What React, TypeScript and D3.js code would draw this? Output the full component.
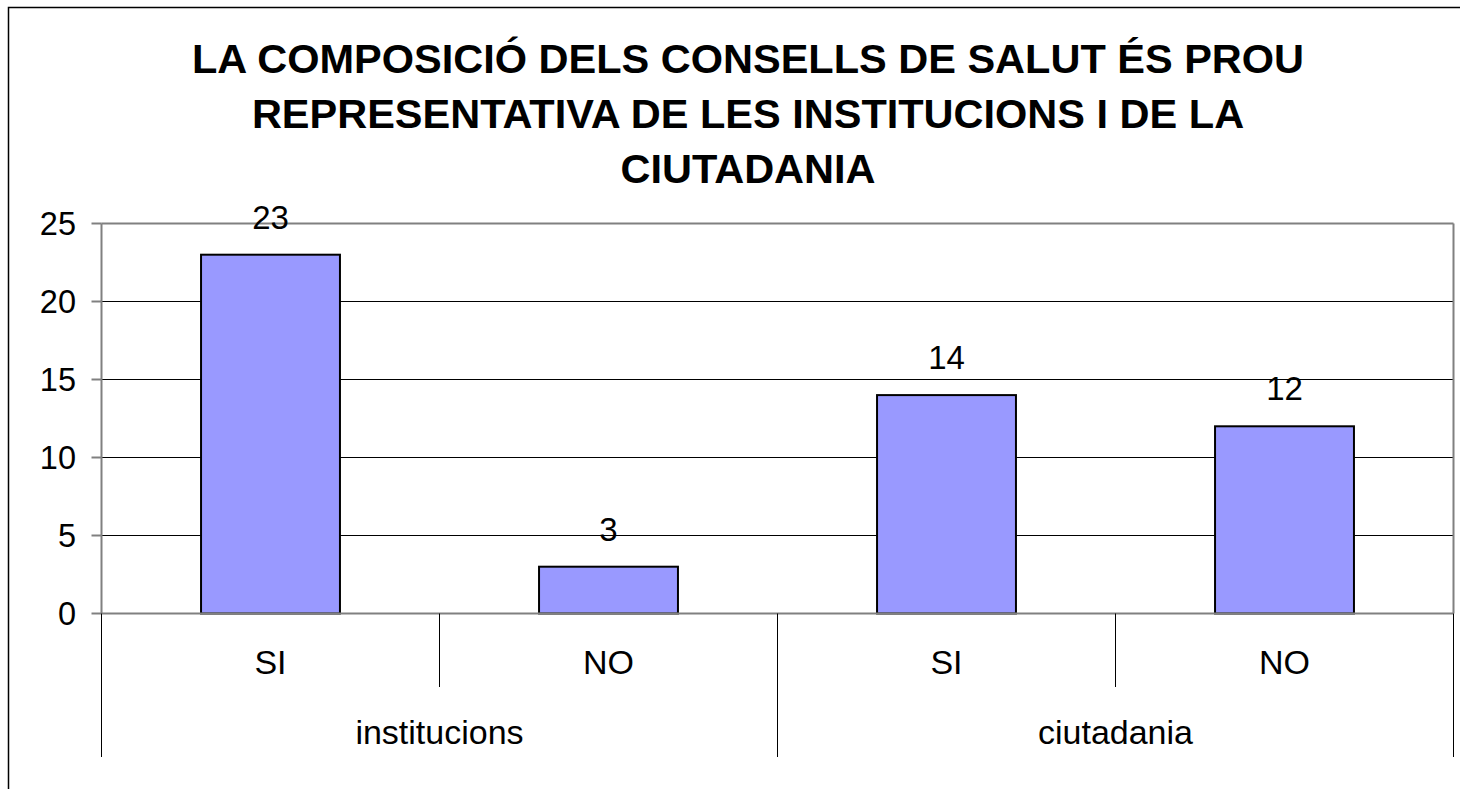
import React from "react";
import * as d3 from "d3";

const titleLines = [
  "LA COMPOSICIÓ DELS CONSELLS DE SALUT ÉS PROU",
  "REPRESENTATIVA DE LES INSTITUCIONS I DE LA",
  "CIUTADANIA",
];
const categories = ["SI", "NO", "SI", "NO"];
const groups = ["institucions", "ciutadania"];
const values = [23, 3, 14, 12];
const yTicks = [0, 5, 10, 15, 20, 25];

const W = 1460;
const H = 789;
const plotLeft = 101.5;
const plotRight = 1453.5;
const plotTop = 223.5;
const plotBottom = 613.5;
const FONT = "'Liberation Sans', Arial, sans-serif";

export default function App() {
  const y = d3.scaleLinear().domain([0, 25]).range([plotBottom, plotTop]);
  const x = d3
    .scaleBand<number>()
    .domain(categories.map((_, i) => i))
    .range([plotLeft, plotRight])
    .padding(0);
  const step = x.bandwidth();
  const barW = step * 0.411;
  const groupX = d3
    .scaleBand<number>()
    .domain(groups.map((_, i) => i))
    .range([plotLeft, plotRight])
    .padding(0);

  return (
    <svg
      width={W}
      height={H}
      style={{ position: "absolute", left: 0, top: 0, background: "#fff" }}
      fontFamily={FONT}
    >
      {/* outer frame */}
      <rect x={8.5} y={7.5} width={W + 20} height={H + 20} fill="none" stroke="#000" strokeWidth={1.5} />

      {/* title */}
      {titleLines.map((t, i) => (
        <text
          key={i}
          x={748}
          y={72.5 + i * 55}
          textAnchor="middle"
          fontSize={41.5}
          fontWeight="bold"
          fill="#000"
        >
          {t}
        </text>
      ))}

      {/* gridlines */}
      {yTicks
        .filter((t) => t > 0 && t < 25)
        .map((t) => (
          <line key={t} x1={plotLeft} x2={plotRight} y1={y(t)} y2={y(t)} stroke="#000" strokeWidth={1} />
        ))}

      {/* plot border top and right */}
      <line x1={plotLeft} x2={plotRight} y1={y(25)} y2={y(25)} stroke="#808080" strokeWidth={2} />
      <line x1={plotRight} x2={plotRight} y1={y(25)} y2={y(0)} stroke="#808080" strokeWidth={2} />

      {/* bars */}
      {values.map((v, i) => {
        const cx = (x(i) as number) + step / 2;
        return (
          <rect
            key={i}
            x={cx - barW / 2}
            y={y(v)}
            width={barW}
            height={y(0) - y(v)}
            fill="#9999FF"
            stroke="#000"
            strokeWidth={2}
          />
        );
      })}

      {/* value labels */}
      {values.map((v, i) => {
        const cx = (x(i) as number) + step / 2;
        return (
          <text key={i} x={cx} y={y(v) - 26} textAnchor="middle" fontSize={33} fill="#000">
            {v}
          </text>
        );
      })}

      {/* y axis */}
      <line x1={plotLeft} x2={plotLeft} y1={y(25)} y2={y(0)} stroke="#808080" strokeWidth={2} />
      {yTicks.map((t) => (
        <g key={t}>
          <line x1={plotLeft - 10} x2={plotLeft} y1={y(t)} y2={y(t)} stroke="#808080" strokeWidth={2} />
          <text x={76} y={y(t) + 11} textAnchor="end" fontSize={32.5} fill="#000">
            {t}
          </text>
        </g>
      ))}

      {/* x axis */}
      <line x1={plotLeft} x2={plotRight} y1={y(0)} y2={y(0)} stroke="#808080" strokeWidth={2} />

      {/* category separators */}
      {categories.map((_, i) => {
        if (i === 0) return null;
        const xx = x(i) as number;
        const isGroup = i % 2 === 0;
        return (
          <line
            key={i}
            x1={xx}
            x2={xx}
            y1={y(0)}
            y2={isGroup ? 757 : 687}
            stroke="#000"
            strokeWidth={1}
          />
        );
      })}
      <line x1={plotLeft} x2={plotLeft} y1={y(0)} y2={757} stroke="#000" strokeWidth={1} />
      <line x1={plotRight} x2={plotRight} y1={y(0)} y2={757} stroke="#000" strokeWidth={1} />

      {/* category labels */}
      {categories.map((c, i) => (
        <text
          key={i}
          x={(x(i) as number) + step / 2}
          y={674}
          textAnchor="middle"
          fontSize={34}
          fill="#000"
        >
          {c}
        </text>
      ))}
      {groups.map((g, i) => (
        <text
          key={g}
          x={(groupX(i) as number) + groupX.bandwidth() / 2}
          y={744}
          textAnchor="middle"
          fontSize={34}
          fill="#000"
        >
          {g}
        </text>
      ))}
    </svg>
  );
}
